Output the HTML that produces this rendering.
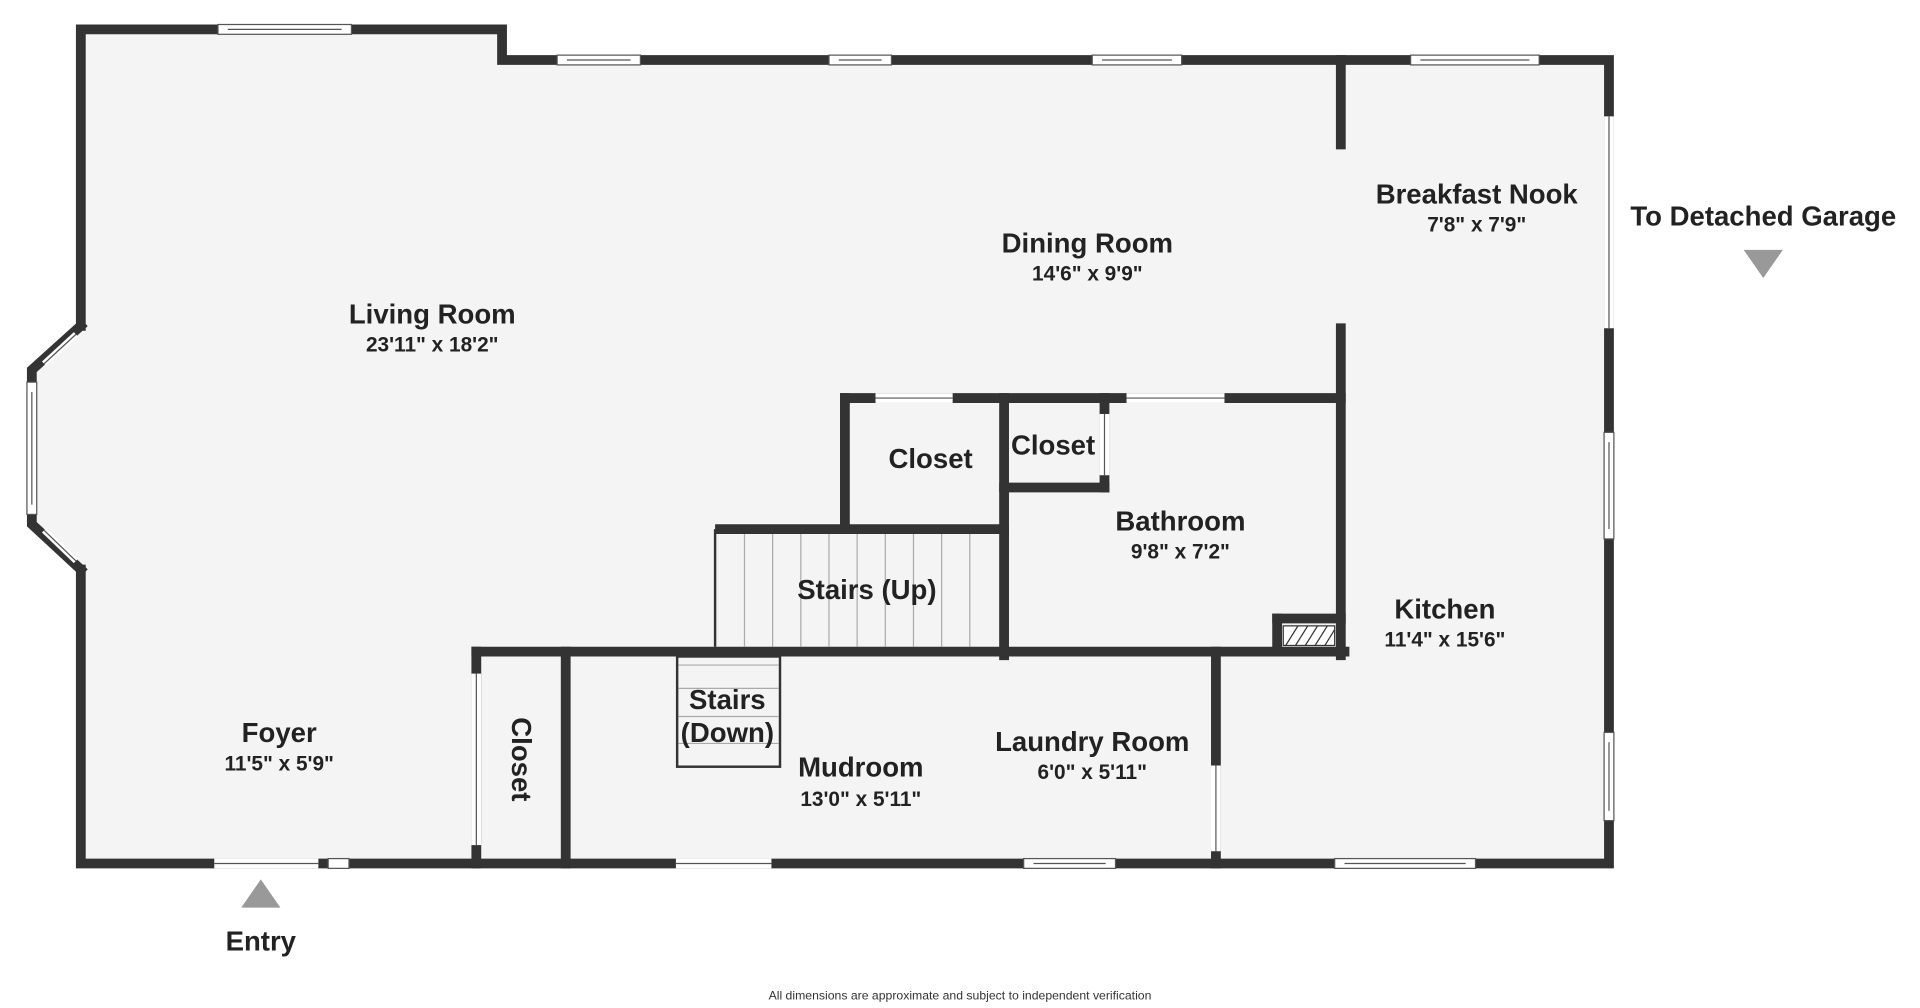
<!DOCTYPE html>
<html><head><meta charset="utf-8"><style>
html,body{margin:0;padding:0;background:#fff;}
svg{display:block;}
text{font-family:"Liberation Sans",sans-serif;fill:#222;text-anchor:middle;}
.n{font-size:22.5px;font-weight:bold;}
.d{font-size:17px;font-weight:bold;}
</style></head><body>
<svg width="1920" height="1008" viewBox="0 0 1568 823" preserveAspectRatio="none" xmlns="http://www.w3.org/2000/svg">
<rect width="1568" height="823" fill="#fff"/>
<polygon points="66,24 410,24 410,49 1314,49 1314,705 66,705 66,465 26,428 26,302 66,266" fill="#f4f4f4"/>
<g stroke="#333" stroke-width="8" fill="none" stroke-linecap="square">
<polyline points="66,266 66,24 410,24 410,49 1314,49 1314,705 66,705 66,465"/>
<polyline points="66,266 26,302 26,428 66,465"/>
<line x1="1095" y1="49" x2="1095" y2="118"/>
<line x1="1095" y1="268" x2="1095" y2="535"/>
<line x1="690" y1="325" x2="1095" y2="325"/>
<line x1="690" y1="325" x2="690" y2="432"/>
<line x1="588" y1="432" x2="820" y2="432"/>
<line x1="820" y1="325" x2="820" y2="535"/>
<line x1="902" y1="325" x2="902" y2="398"/>
<line x1="820" y1="398" x2="902" y2="398"/>
<line x1="389" y1="532" x2="1098" y2="532"/>
<line x1="389" y1="532" x2="389" y2="705"/>
<line x1="462" y1="532" x2="462" y2="705"/>
<line x1="993" y1="532" x2="993" y2="705"/>
<line x1="1043" y1="505" x2="1095" y2="505"/>
<line x1="1043" y1="505" x2="1043" y2="532"/>
</g>
<rect x="1048" y="511" width="42" height="16" fill="#fff" stroke="#333" stroke-width="1"/>
<g stroke="#333" stroke-width="1">
<line x1="1050" y1="527" x2="1060" y2="511"/><line x1="1058" y1="527" x2="1068" y2="511"/><line x1="1066" y1="527" x2="1076" y2="511"/><line x1="1074" y1="527" x2="1084" y2="511"/><line x1="1082" y1="527" x2="1090" y2="514"/>
</g>
<g fill="#fff" stroke="#555" stroke-width="1">
<rect x="178" y="20" width="109" height="8"/><line x1="186" y1="24" x2="279" y2="24"/>
<rect x="455" y="45" width="68" height="8"/><line x1="463" y1="49" x2="515" y2="49"/>
<rect x="677" y="45" width="51" height="8"/><line x1="685" y1="49" x2="720" y2="49"/>
<rect x="892" y="45" width="73" height="8"/><line x1="900" y1="49" x2="957" y2="49"/>
<rect x="1152" y="45" width="105" height="8"/><line x1="1160" y1="49" x2="1249" y2="49"/>
<rect x="1310" y="95" width="8" height="173" stroke="none"/><line x1="1314" y1="95" x2="1314" y2="268"/>
<rect x="1310" y="353" width="8" height="87"/><line x1="1314" y1="361" x2="1314" y2="432"/>
<rect x="1310" y="598" width="8" height="72"/><line x1="1314" y1="606" x2="1314" y2="662"/>
<rect x="175" y="701" width="85" height="8" stroke="none"/><line x1="175" y1="705" x2="260" y2="705"/>
<rect x="268" y="701" width="17" height="8"/>
<rect x="552" y="701" width="78" height="8" stroke="none"/><line x1="552" y1="705" x2="630" y2="705"/>
<rect x="836" y="701" width="75" height="8"/><line x1="844" y1="705" x2="903" y2="705"/>
<rect x="1090" y="701" width="115" height="8"/><line x1="1098" y1="705" x2="1197" y2="705"/>
<rect x="22" y="312" width="8" height="108"/><line x1="26" y1="320" x2="26" y2="412"/>
<rect x="715" y="321" width="63" height="8" stroke="none"/><line x1="715" y1="325" x2="778" y2="325"/>
<rect x="920" y="321" width="80" height="8" stroke="none"/><line x1="920" y1="325" x2="1000" y2="325"/>
<rect x="898" y="338" width="8" height="50" stroke="none"/><line x1="902" y1="338" x2="902" y2="388"/>
<rect x="385" y="550" width="8" height="140" stroke="none"/><line x1="389" y1="550" x2="389" y2="690"/>
<rect x="989" y="625" width="8" height="70" stroke="none"/><line x1="993" y1="625" x2="993" y2="695"/>
</g>
<g stroke="#fff" stroke-width="5"><line x1="36" y1="297" x2="62" y2="273"/><line x1="36" y1="433" x2="62" y2="458"/></g>
<g stroke="#555" stroke-width="1"><line x1="36" y1="297" x2="62" y2="273"/><line x1="36" y1="433" x2="62" y2="458"/></g>
<g stroke="#aaa" stroke-width="1">
<line x1="584" y1="432" x2="584" y2="528" stroke="#333" stroke-width="2"/>
<line x1="608" y1="436" x2="608" y2="528"/><line x1="631" y1="436" x2="631" y2="528"/><line x1="654" y1="436" x2="654" y2="528"/><line x1="677" y1="436" x2="677" y2="528"/><line x1="700" y1="436" x2="700" y2="528"/><line x1="723" y1="436" x2="723" y2="528"/><line x1="746" y1="436" x2="746" y2="528"/><line x1="769" y1="436" x2="769" y2="528"/><line x1="792" y1="436" x2="792" y2="528"/>
</g>
<rect x="553" y="536" width="84" height="90" fill="none" stroke="#333" stroke-width="2"/>
<g stroke="#aaa" stroke-width="1"><line x1="554" y1="543" x2="636" y2="543"/><line x1="554" y1="562" x2="636" y2="562"/><line x1="554" y1="585" x2="636" y2="585"/><line x1="554" y1="607" x2="636" y2="607"/></g>
<polygon points="1424,204 1456,204 1440,227" fill="#999"/>
<polygon points="197,741 229,741 213,718" fill="#999"/>
<text class="n" x="353" y="264">Living Room</text><text class="d" x="353" y="287">23'11" x 18'2"</text>
<text class="n" x="888" y="206">Dining Room</text><text class="d" x="888" y="229">14'6" x 9'9"</text>
<text class="n" x="1206" y="166">Breakfast Nook</text><text class="d" x="1206" y="189">7'8" x 7'9"</text>
<text class="n" x="1440" y="184">To Detached Garage</text>
<text class="n" x="760" y="382">Closet</text>
<text class="n" x="860" y="371">Closet</text>
<text class="n" x="964" y="433">Bathroom</text><text class="d" x="964" y="456">9'8" x 7'2"</text>
<text class="n" x="708" y="489">Stairs (Up)</text>
<text class="n" x="1180" y="505">Kitchen</text><text class="d" x="1180" y="528">11'4" x 15'6"</text>
<text class="n" x="594" y="579">Stairs</text><text class="n" x="594" y="606">(Down)</text>
<text class="n" x="228" y="606">Foyer</text><text class="d" x="228" y="629">11'5" x 5'9"</text>
<text class="n" transform="translate(418,620) rotate(90)">Closet</text>
<text class="n" x="703" y="634">Mudroom</text><text class="d" x="703" y="658">13'0" x 5'11"</text>
<text class="n" x="892" y="613">Laundry Room</text><text class="d" x="892" y="636">6'0" x 5'11"</text>
<text class="n" x="213" y="776">Entry</text>
<text x="784" y="816" style="font-size:10px;fill:#333">All dimensions are approximate and subject to independent verification</text>
</svg>
</body></html>
